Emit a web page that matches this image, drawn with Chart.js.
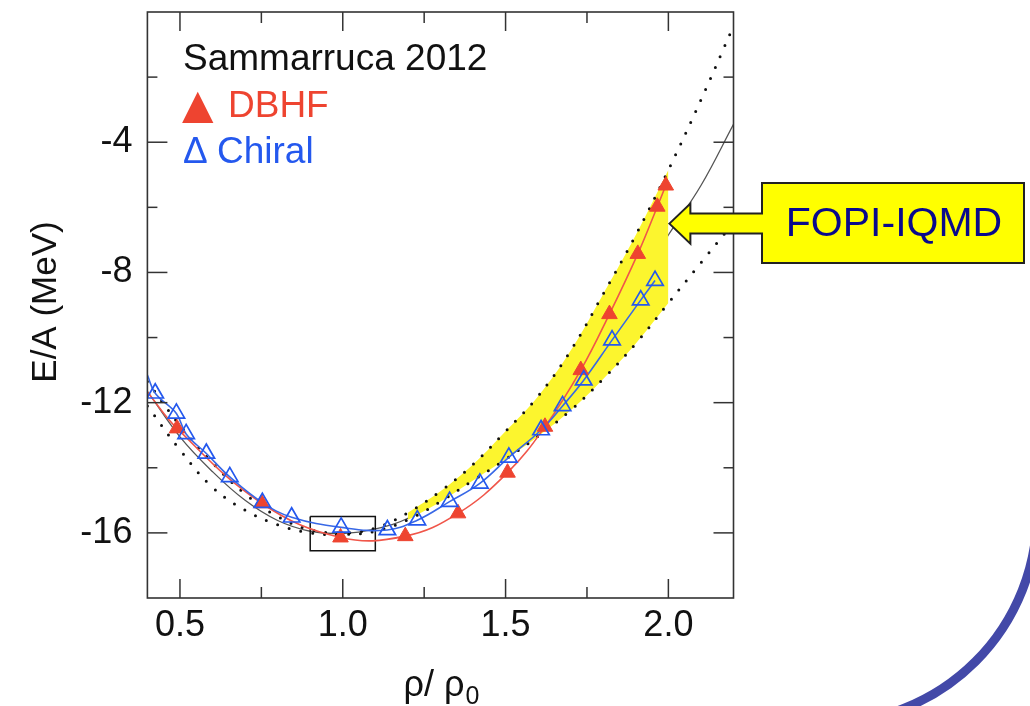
<!DOCTYPE html>
<html><head><meta charset="utf-8">
<script src="https://cdn.jsdelivr.net/npm/chart.js@4.4.1/dist/chart.umd.min.js"></script>
<style>html,body{margin:0;padding:0;background:#fff;overflow:hidden}canvas{display:block}</style>
</head><body>
<canvas id="c" width="1030" height="706"></canvas>
<script>
// ---- axis ticks ----
const xTickValues = [0.5, 1.0, 1.5, 2.0];
const xMinorTicks = [0.75, 1.25, 1.75];
const yTickValues = [-16, -12, -8, -4];
const yMinorTicks = [-14, -10, -6, -2];

// ---- Sammarruca 2012: DBHF (filled red triangles) ----
const dbhfRho = [0.491, 0.751, 0.993, 1.192, 1.354, 1.506, 1.621, 1.731, 1.819, 1.906, 1.966, 1.992];
const dbhfE   = [-12.79, -15.09, -16.14, -16.10, -15.40, -14.15, -12.74, -11.00, -9.28, -7.43, -5.98, -5.33];
const dbhfCurveStart = [0.4, -11.67];

// ---- Sammarruca 2012: Chiral (open blue triangles) ----
const chiralRho = [0.424, 0.489, 0.519, 0.581, 0.653, 0.753, 0.843, 0.995, 1.137, 1.229, 1.328, 1.421, 1.510, 1.609, 1.675, 1.740, 1.827, 1.915, 1.959];
const chiralE   = [-11.71, -12.33, -12.96, -13.56, -14.28, -15.07, -15.52, -15.83, -15.91, -15.61, -15.04, -14.48, -13.68, -12.84, -12.10, -11.31, -10.08, -8.85, -8.25];
const chiralCurveStart = [0.4, -11.15];

// ---- FOPI-IQMD curves (dotted bounds, solid centre) ----
const iqmdRho   = [0.4, 0.5, 0.6, 0.7, 0.8, 0.9, 1.0, 1.1, 1.2, 1.3, 1.4, 1.5, 1.6, 1.7, 1.8, 1.9, 2.0, 2.1, 2.2];
const iqmdStiffE = [-11.35, -12.70, -13.85, -14.80, -15.50, -15.90, -16.00, -15.85, -15.38, -14.72, -13.90, -12.88, -11.80, -10.40, -8.66, -6.85, -4.85, -2.70, -0.43];
const iqmdMidE   = [-11.65, -13.05, -14.12, -15.00, -15.62, -15.95, -16.02, -15.88, -15.55, -14.90, -14.15, -13.31, -12.40, -11.30, -9.97, -8.50, -6.85, -5.33, -3.45];
const iqmdSoftE  = [-12.10, -13.45, -14.60, -15.30, -15.75, -16.00, -16.05, -15.95, -15.60, -15.04, -14.39, -13.74, -13.03, -12.23, -11.27, -10.18, -8.94, -7.70, -6.48];
const bandRange = [1.2, 2.0];

// ---- saturation box ----
const satBoxRho = [0.9, 1.1];
const satBoxE = [-15.5, -16.55];

// ---- arrow target ----
const arrowTarget = [2.0, -6.5];

const FONT = '"Liberation Sans", Arial, Helvetica, sans-serif';

function pts(xs, ys) { return xs.map((x, i) => ({x: x, y: ys[i]})); }
function inBand(xs, ys) { return pts(xs, ys).filter(p => p.x >= bandRange[0] - 1e-9 && p.x <= bandRange[1] + 1e-9); }
const boxPts = [
  {x: satBoxRho[0], y: satBoxE[0]}, {x: satBoxRho[1], y: satBoxE[0]},
  {x: satBoxRho[1], y: satBoxE[1]}, {x: satBoxRho[0], y: satBoxE[1]},
  {x: satBoxRho[0], y: satBoxE[0]}
];

const RED = '#EE4430', BLUE = '#2458EE';

const decor = {
  id: 'decor',
  beforeDraw(chart) {
    const ctx = chart.ctx;
    ctx.save(); ctx.fillStyle = '#fff'; ctx.fillRect(0, 0, chart.width, chart.height); ctx.restore();
  },
  afterDraw(chart) {
    const {ctx, chartArea: a, scales: {x, y}} = chart;
    ctx.save();
    // frame
    ctx.strokeStyle = '#333'; ctx.lineWidth = 1.6;
    ctx.strokeRect(a.left, a.top, a.right - a.left, a.bottom - a.top);
    ctx.lineWidth = 1.5;
    const seg = (x1, y1, x2, y2) => { ctx.beginPath(); ctx.moveTo(x1, y1); ctx.lineTo(x2, y2); ctx.stroke(); };
    const xt = (v, len) => { const p = x.getPixelForValue(v); seg(p, a.bottom, p, a.bottom - len); seg(p, a.top, p, a.top + len); };
    const yt = (v, len) => { const p = y.getPixelForValue(v); seg(a.left, p, a.left + len, p); seg(a.right, p, a.right - len, p); };
    xTickValues.forEach(v => xt(v, 19)); xMinorTicks.forEach(v => xt(v, 11));
    yTickValues.forEach(v => yt(v, 20)); yMinorTicks.forEach(v => yt(v, 10));

    // in-plot legend text
    ctx.textBaseline = 'alphabetic'; ctx.textAlign = 'left';
    ctx.fillStyle = '#111'; ctx.font = '37px ' + FONT;
    ctx.fillText('Sammarruca 2012', 183, 70);
    ctx.fillStyle = RED; ctx.font = '41px "DejaVu Sans", ' + FONT;
    ctx.fillText('\u25B2', 182, 118);
    ctx.font = '37px ' + FONT; ctx.fillText('DBHF', 228, 117);
    ctx.fillStyle = BLUE;
    ctx.fillText('\u0394', 183, 163);
    ctx.fillText('Chiral', 217, 163);

    // axis titles
    ctx.fillStyle = '#111';
    ctx.save(); ctx.translate(46, 302); ctx.rotate(-Math.PI / 2);
    ctx.textAlign = 'center'; ctx.textBaseline = 'middle'; ctx.font = '35px ' + FONT;
    ctx.fillText('E/A (MeV)', 0, 0); ctx.restore();
    ctx.font = '36px ' + FONT;
    const main = '\u03C1/ \u03C1';
    const w1 = ctx.measureText(main).width;
    ctx.font = '25px ' + FONT;
    const w2 = ctx.measureText('0').width;
    const sx = 441 - (w1 + w2) / 2;
    ctx.font = '36px ' + FONT; ctx.fillText(main, sx, 696);
    ctx.font = '25px ' + FONT; ctx.fillText('0', sx + w1 + 1, 704);

    // FOPI-IQMD callout with arrow
    const tipX = x.getPixelForValue(arrowTarget[0]) + 1, tipY = y.getPixelForValue(arrowTarget[1]);
    const bx1 = 762, by1 = 183, bx2 = 1024, by2 = 263;
    ctx.beginPath();
    ctx.moveTo(tipX, tipY);
    ctx.lineTo(tipX + 21, tipY - 20);
    ctx.lineTo(tipX + 21, tipY - 10);
    ctx.lineTo(bx1, tipY - 10);
    ctx.lineTo(bx1, by1);
    ctx.lineTo(bx2, by1);
    ctx.lineTo(bx2, by2);
    ctx.lineTo(bx1, by2);
    ctx.lineTo(bx1, tipY + 10);
    ctx.lineTo(tipX + 21, tipY + 10);
    ctx.lineTo(tipX + 21, tipY + 20);
    ctx.closePath();
    ctx.fillStyle = '#FFFF00'; ctx.fill();
    ctx.strokeStyle = '#222'; ctx.lineWidth = 2; ctx.lineJoin = 'miter'; ctx.stroke();
    ctx.fillStyle = '#0A0A8C'; ctx.font = '41px ' + FONT;
    ctx.textAlign = 'center'; ctx.textBaseline = 'alphabetic';
    ctx.fillText('FOPI-IQMD', (bx1 + bx2) / 2 + 1, 236);

    // decorative slide arc
    ctx.beginPath(); ctx.strokeStyle = '#4349A8'; ctx.lineWidth = 9;
    ctx.arc(827, 513, 210, 0, Math.PI / 2); ctx.stroke();
    ctx.restore();
  }
};

const dotted = {borderDash: [0, 12], borderCapStyle: 'round', borderWidth: 3, borderColor: '#111', pointRadius: 0, showLine: true, tension: 0.4, fill: false};

new Chart(document.getElementById('c'), {
  type: 'scatter',
  data: {
    datasets: [
      {label: 'Chiral', data: pts(chiralRho, chiralE), pointStyle: 'triangle', pointRadius: 9.5, backgroundColor: 'rgba(255,255,255,0)', borderColor: BLUE, borderWidth: 1.7, order: 1},
      {label: 'DBHF', data: pts(dbhfRho, dbhfE), pointStyle: 'triangle', pointRadius: 9, backgroundColor: RED, borderColor: RED, borderWidth: 1, order: 2},
      {label: 'Chiral curve', data: [{x: chiralCurveStart[0], y: chiralCurveStart[1]}].concat(pts(chiralRho, chiralE)), showLine: true, pointRadius: 0, borderColor: '#3868E6', borderWidth: 1.6, tension: 0.4, order: 3},
      {label: 'DBHF curve', data: [{x: dbhfCurveStart[0], y: dbhfCurveStart[1]}].concat(pts(dbhfRho, dbhfE)), showLine: true, pointRadius: 0, borderColor: '#F0564A', borderWidth: 1.6, tension: 0.4, order: 4},
      Object.assign({label: 'IQMD stiff', data: pts(iqmdRho, iqmdStiffE), order: 5}, dotted),
      Object.assign({label: 'IQMD soft', data: pts(iqmdRho, iqmdSoftE), order: 6}, dotted),
      {label: 'saturation box', data: boxPts, showLine: true, pointRadius: 0, borderColor: '#111', borderWidth: 1.5, tension: 0, order: 7},
      {label: 'band upper', data: inBand(iqmdRho, iqmdStiffE), showLine: true, pointRadius: 0, borderColor: 'rgba(0,0,0,0)', borderWidth: 1, tension: 0.4, backgroundColor: '#FCF52E', fill: 8, order: 8},
      {label: 'band lower', data: inBand(iqmdRho, iqmdSoftE), showLine: true, pointRadius: 0, borderColor: 'rgba(0,0,0,0)', borderWidth: 1, tension: 0.4, fill: false, order: 9},
      {label: 'IQMD', data: pts(iqmdRho, iqmdMidE), showLine: true, pointRadius: 0, borderColor: '#555', borderWidth: 1.3, tension: 0.4, fill: false, order: 10}
    ]
  },
  options: {
    responsive: false, animation: false, devicePixelRatio: 1,
    layout: {padding: {left: 0, top: 12, right: 296.5, bottom: 0}},
    plugins: {legend: {display: false}, tooltip: {enabled: false}},
    scales: {
      x: {
        type: 'linear', position: 'bottom', min: 0.4, max: 2.2,
        grid: {display: false, drawTicks: false}, border: {display: false},
        ticks: {font: {family: FONT, size: 36}, color: '#111', padding: 6, callback: v => Number(v).toFixed(1)},
        afterBuildTicks: s => { s.ticks = xTickValues.map(v => ({value: v})); },
        afterFit: s => { s.height = 108; s.paddingLeft = 0; s.paddingRight = 0; }
      },
      y: {
        type: 'linear', position: 'left', min: -18, max: 0,
        grid: {display: false, drawTicks: false}, border: {display: false},
        ticks: {font: {family: FONT, size: 36}, color: '#111', padding: 15},
        afterBuildTicks: s => { s.ticks = yTickValues.map(v => ({value: v})); },
        afterFit: s => { s.width = 147.4; s.paddingTop = 0; s.paddingBottom = 0; }
      }
    }
  },
  plugins: [decor]
});
</script>
</body></html>
